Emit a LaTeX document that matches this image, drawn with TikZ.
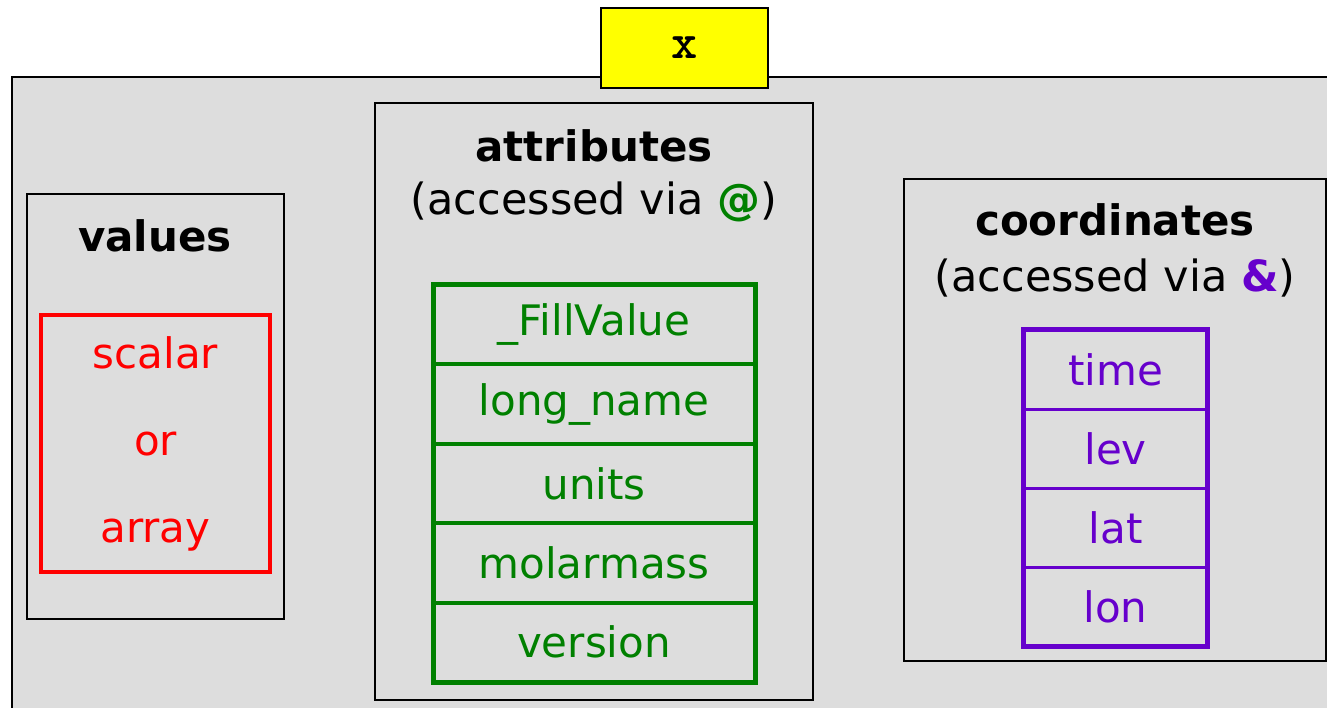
\documentclass[tikz,border=0pt]{standalone}
\usepackage{fontspec}
\setmainfont{DejaVu Sans}
\newfontfamily\namefont{lmmonolt10-bold.otf}
\usepackage{tikz}
\usetikzlibrary{positioning}
\definecolor{panelgray}{RGB}{221,221,221}
\definecolor{namegold}{RGB}{255,255,0}
\definecolor{valred}{RGB}{255,0,0}
\definecolor{attgreen}{RGB}{0,128,0}
\definecolor{crdpurple}{RGB}{102,0,204}

\begin{document}
\begin{tikzpicture}[x=1pt,y=-1pt]
  \tikzstyle{panel}=[rectangle,draw=black,line width=2pt,fill=panelgray,inner sep=0pt]
  \tikzstyle{namebox}=[rectangle,draw=black,line width=2pt,fill=namegold,minimum width=167pt,minimum height=80pt,font=\fontsize{50}{50}\selectfont\namefont]
  \tikzstyle{heading}=[font=\fontsize{42}{44}\selectfont\bfseries]
  \tikzstyle{note}=[font=\fontsize{43}{44}\selectfont]
  \tikzstyle{valbox}=[rectangle,draw=valred,line width=4pt,text=valred,align=center,minimum width=229pt,minimum height=257pt,font=\fontsize{42}{87}\selectfont]
  \tikzstyle{attrow}=[rectangle,draw=attgreen,line width=2pt,text=attgreen,minimum width=320pt,minimum height=77.4pt,inner sep=0pt,font=\fontsize{42}{44}\selectfont]
  \tikzstyle{crdrow}=[rectangle,draw=crdpurple,line width=1.5pt,text=crdpurple,minimum width=183pt,minimum height=77.5pt,inner sep=0pt,font=\fontsize{42}{44}\selectfont]

  \useasboundingbox (0,0) rectangle (1327,708);
  \clip (0,0) rectangle (1327,708);

  % the variable itself
  \node[panel,anchor=north west,minimum width=1340pt,minimum height=660pt] (var) at (11,76) {};
  \node[namebox] (name) at (684.5,48) {x};

  % values
  \node[panel,minimum width=257pt,minimum height=425pt] (values) at (155.5,406.5) {};
  \node[heading] (valtitle) at (155,236) {values};
  \node[valbox] (data) at (155.5,443.5) {scalar\\or\\array};

  % attributes
  \node[panel,minimum width=438pt,minimum height=597pt] (attrs) at (594,401.5) {};
  \node[heading] (atttitle) at (594,146) {attributes};
  \node[note] (attvia) at (594,202) {(accessed via \textcolor{attgreen}{\bfseries @})};
  \node[attrow,anchor=north] (fill) at (594,285) {\_FillValue};
  \node[attrow,below=0pt of fill] (lname) {long\_name};
  \node[attrow,below=0pt of lname] (units) {units};
  \node[attrow,below=0pt of units] (molar) {molarmass};
  \node[attrow,below=0pt of molar] (vers) {version};
  \draw[attgreen,line width=5pt] (fill.north west) rectangle (vers.south east);

  % coordinates
  \node[panel,minimum width=422pt,minimum height=482pt] (coords) at (1115,420) {};
  \node[heading] (crdtitle) at (1115,220) {coordinates};
  \node[note] (crdvia) at (1115,278) {(accessed via \textcolor{crdpurple}{\bfseries \&})};
  \node[crdrow,anchor=north] (time) at (1115.5,330) {time};
  \node[crdrow,below=0pt of time] (lev) {lev};
  \node[crdrow,below=0pt of lev] (lat) {lat};
  \node[crdrow,below=0pt of lat] (lon) {lon};
  \draw[crdpurple,line width=5pt] (time.north west) rectangle (lon.south east);
\end{tikzpicture}
\end{document}
